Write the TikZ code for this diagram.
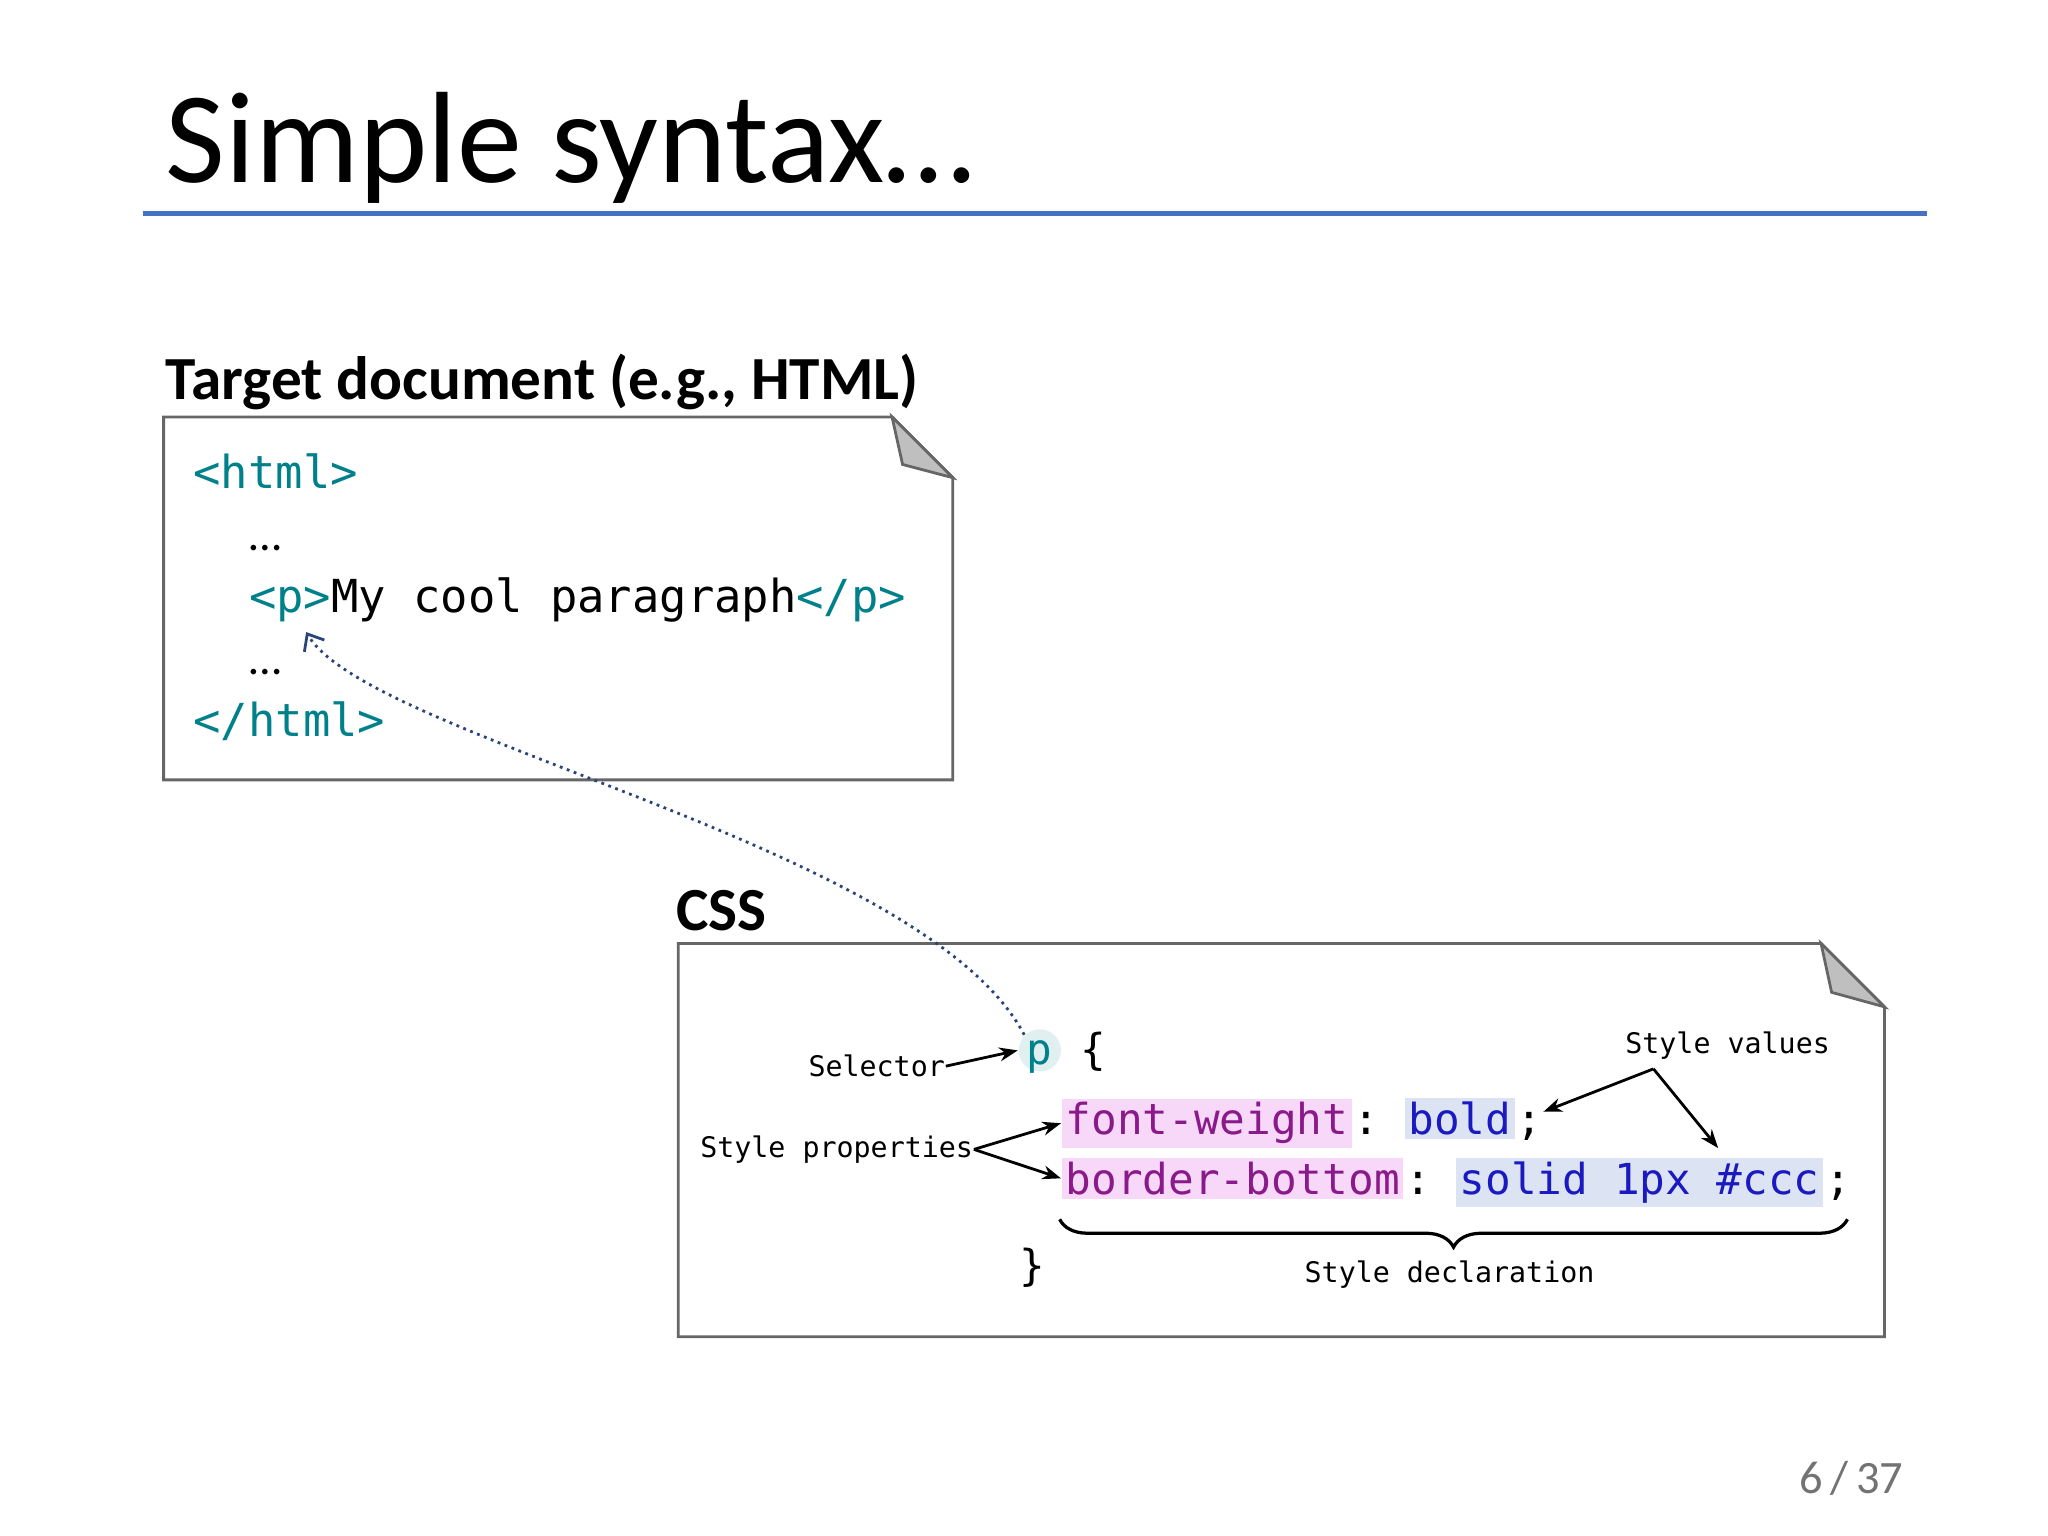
\documentclass[tikz,border=0pt]{standalone}
\usepackage{fontspec}
\setmainfont{Carlito}
\newfontfamily\codefont{DejaVu Sans Mono}
\usetikzlibrary{positioning,arrows.meta,decorations.pathreplacing}
\definecolor{tagteal}{HTML}{00808A}
\definecolor{rulebl}{HTML}{4472C4}
\definecolor{propbg}{HTML}{F8D8F8}
\definecolor{propfg}{HTML}{8A1A8A}
\definecolor{valbg}{HTML}{DCE4F4}
\definecolor{valfg}{HTML}{1A1AC0}
\tikzset{
  doc/.style={draw=black!60, line width=0.6pt, fill=white},
  fold/.style={draw=black!60, fill=black!25, line width=0.6pt},
  html/.style={anchor=base west, inner sep=0pt, font=\codefont\fontsize{9.8}{12}\selectfont},
  css/.style={anchor=base west, inner sep=0.8pt, font=\codefont\fontsize{9.2}{12}\selectfont},
  lbl/.style={anchor=base west, inner sep=0pt, font=\codefont\fontsize{6.1}{8}\selectfont},
  note/.style={-{Stealth[length=4pt]}, line width=0.6pt}
}
\begin{document}
\begin{tikzpicture}[x=0.01cm, y=-0.01cm]
\useasboundingbox (0,0) rectangle (1552,1164);
% title
\node[anchor=base west, inner sep=0pt, font=\fontsize{28}{34}\selectfont] (title) at (125,138) {Simple syntax\dots};
\draw[rulebl, line width=1pt] (108,162) coordinate (r1) -- (1460,162) coordinate (r2);
%============ HTML document
\node[anchor=base west, inner sep=0pt, font=\bfseries\fontsize{13.2}{16}\selectfont] (thead) at (125,303) {Target document (e.g., HTML)};
\draw[doc] (124,316) -- (676,316) -- (722,362) -- (722,591) -- (124,591) -- cycle;
\draw[fold] (676,316) -- (684,352) -- (722,362) -- cycle;
\node[html, tagteal] (h1) at (146,370) {<html>};
\node[html, font=\fontsize{10}{12}\selectfont] (d1) at (188,417) {\dots};
\node[html] (pl) at (188,464) {\textcolor{tagteal}{<p>}My cool paragraph\textcolor{tagteal}{</p>}};
\node[html, font=\fontsize{10}{12}\selectfont] (d2) at (188,511) {\dots};
\node[html, tagteal] (h2) at (146,558) {</html>};
\coordinate (ptarget) at (232,479);
%============ CSS
\node[anchor=base west, inner sep=0pt, font=\bfseries\fontsize{13.2}{16}\selectfont] (chead) at (512,705) {CSS};
\draw[doc] (514,715) -- (1380,715) -- (1428,763) -- (1428,1013) -- (514,1013) -- cycle;
\draw[fold] (1380,715) -- (1388,752) -- (1428,763) -- cycle;
\node[circle, fill=tagteal!12, inner sep=1pt, minimum size=32pt*0.2845] (sel) at (788,796) {};
\node[css, tagteal, anchor=base] at (788,807) {p};
\node[css, inner sep=0pt] (ob) at (818,807) {\{};
\node[css, fill=propbg, text=propfg] (fw) at (804,860) {font-weight};
\node[css, inner sep=0pt] (c1) at (fw.base east) {:};
\node[css, fill=valbg, text=valfg, anchor=base west] (bd) at ([xshift=5pt]c1.base east) {bold};
\node[css, inner sep=0pt] (s1) at (bd.base east) {;};
\node[css, fill=propbg, text=propfg] (bb) at (804,905) {border-bottom};
\node[css, inner sep=0pt] (c2) at (bb.base east) {:};
\node[css, fill=valbg, text=valfg] (sv) at ([xshift=5pt]c2.base east) {solid 1px \#ccc};
\node[css, inner sep=0pt] (s2) at (sv.base east) {;};
\node[css, inner sep=0pt] (cb) at (772,970) {\}};
% labels
\node[lbl] (selector) at (612,816) {Selector};
\node[lbl] (props) at (530,877) {Style properties};
\node[lbl] (vals) at (1231,798) {Style values};
\node[lbl] (decl) at (988,972) {Style declaration};
\draw[note] (selector.east) -- (sel.west);
\draw[note] (props.east) -- (fw.west);
\draw[note] (props.east) -- (bb.west);
\coordinate (vt) at (1253,810);
\draw[note] (vt) -- (s1.north east);
\draw[note] (vt) -- (1302,870);
\draw[decorate, decoration={brace, mirror, amplitude=6pt}, line width=0.7pt] (803,924) -- (1400,924);
% link selector -> element
\draw[densely dotted, rulebl!60!black, line width=0.6pt, -{Straight Barb[open, length=3pt, width=5pt]}]
  (sel.north west) .. controls (700,640) and (280,560) .. (ptarget);
% page number
\node[anchor=base east, inner sep=0pt, text=black!55, font=\fontsize{10}{12}\selectfont] (pg) at (1443,1132) {6\,/\,37};
\end{tikzpicture}
\end{document}
